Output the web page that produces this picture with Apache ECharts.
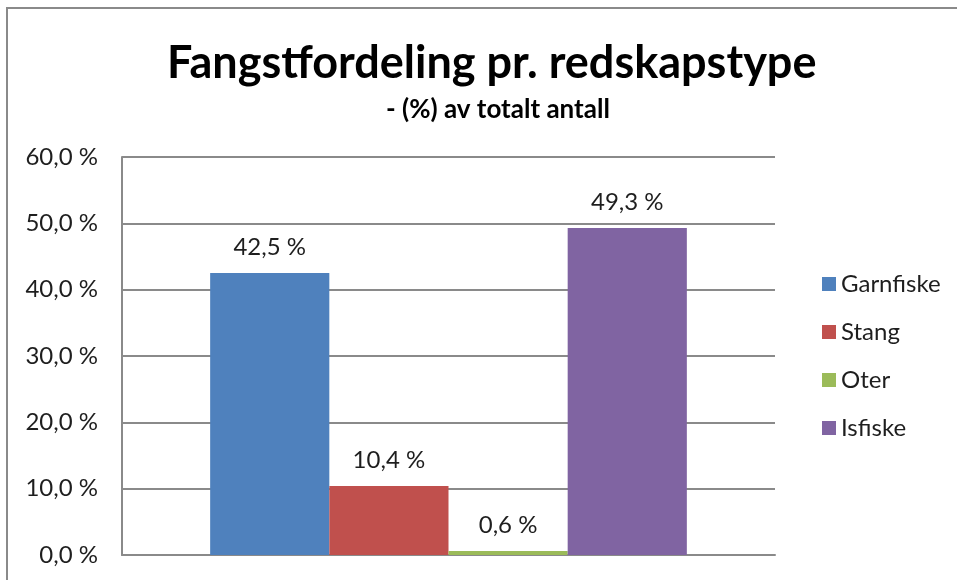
<!DOCTYPE html>
<html>
<head>
<meta charset="utf-8">
<script src="https://cdn.jsdelivr.net/npm/echarts@6/dist/echarts.min.js"></script>
<style>
  html, body { margin: 0; padding: 0; background: #fff; }
  #chart { width: 957px; height: 580px; }
</style>
</head>
<body>
<div id="chart"></div>
<script>
const seriesNames = ['Garnfiske', 'Stang', 'Oter', 'Isfiske']
const seriesValues = [42.5, 10.4, 0.6, 49.3]
const seriesColors = ['#4F81BD', '#C0504D', '#9BBB59', '#8064A2']
const yTicks = [0, 10, 20, 30, 40, 50, 60]

const fontFamily = 'Lato, "Open Sans", sans-serif'
const pct = v => v.toFixed(1).replace('.', ',') + ' %'

const chart = echarts.init(document.getElementById('chart'))

const option = {
  animation: false,
  textStyle: { fontFamily: fontFamily },
  title: [
    {
      text: 'Fangstfordeling pr. redskapstype',
      left: 162,
      top: 36,
      textStyle: { fontSize: 45, fontWeight: 'bold', color: '#000', fontFamily: fontFamily }
    },
    {
      text: '- (%) av totalt antall',
      left: 381,
      top: 92,
      textStyle: { fontSize: 26, fontWeight: 'bold', color: '#000', fontFamily: fontFamily }
    }
  ],
  graphic: [
    {
      type: 'rect',
      shape: { x: 7, y: 8, width: 1200, height: 1200 },
      style: { fill: 'none', stroke: '#8a8a8a', lineWidth: 2 },
      silent: true
    }
  ],
  legend: {
    orient: 'vertical',
    left: 817,
    top: 267,
    itemWidth: 14,
    itemHeight: 14,
    itemGap: 24,
    icon: 'rect',
    data: seriesNames,
    textStyle: { fontSize: 24, color: '#1e1e1e', fontFamily: fontFamily }
  },
  grid: { left: 122, right: 182, top: 157, bottom: 25, containLabel: false },
  xAxis: {
    type: 'category',
    data: [''],
    axisLine: { lineStyle: { color: '#8a8a8a', width: 2 } },
    axisTick: { show: false },
    axisLabel: { show: false }
  },
  yAxis: {
    type: 'value',
    min: yTicks[0],
    max: yTicks[yTicks.length - 1],
    interval: 10,
    axisLine: { show: true, lineStyle: { color: '#8a8a8a', width: 2 } },
    axisTick: { show: false },
    axisLabel: { formatter: pct, fontSize: 24, color: '#1e1e1e', margin: 24 },
    splitLine: { lineStyle: { color: '#8a8a8a', width: 2 } }
  },
  series: seriesNames.map((name, i) => ({
    name: name,
    type: 'bar',
    data: [seriesValues[i]],
    barGap: '0%',
    barCategoryGap: '27%',
    itemStyle: { color: seriesColors[i] },
    label: {
      show: true,
      position: 'top',
      distance: 14,
      formatter: p => pct(p.value),
      fontSize: 24,
      color: '#1e1e1e'
    }
  }))
}

chart.setOption(option)
</script>
</body>
</html>
